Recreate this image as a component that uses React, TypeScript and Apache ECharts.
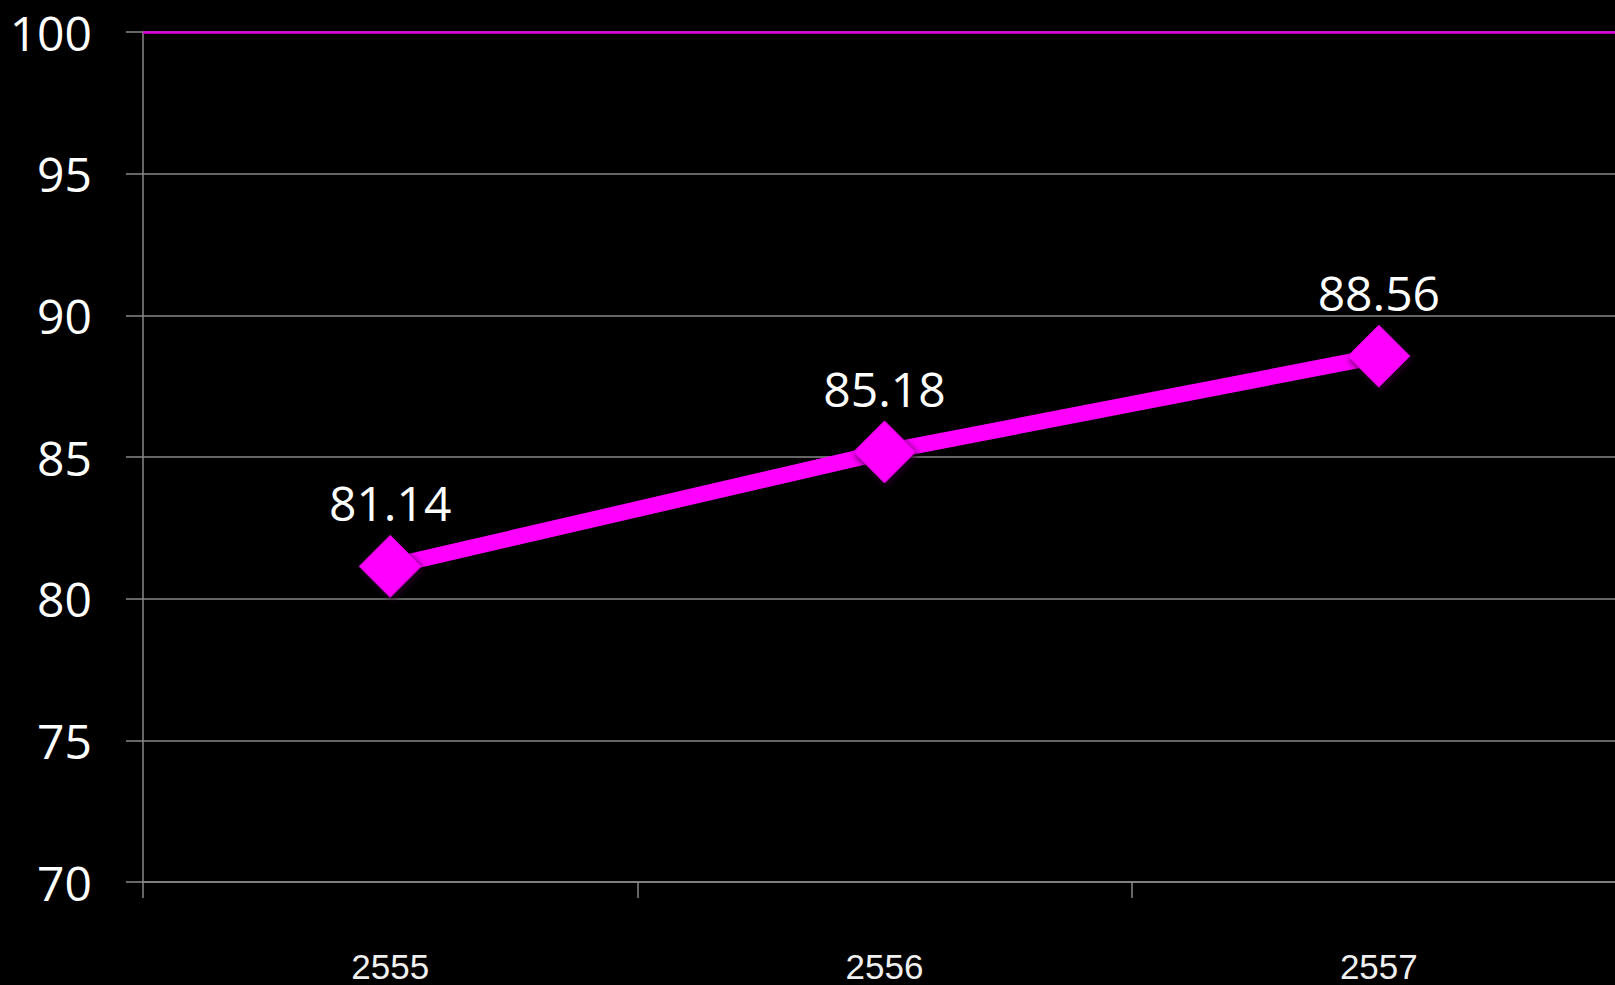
import React, { useEffect, useRef } from "react";
import * as echarts from "echarts";

const categories = ["2555", "2556", "2557"];
const values = [81.14, 85.18, 88.56];
const yTicks = { min: 70, max: 100, interval: 5 };

export default function App() {
  const ref = useRef<HTMLDivElement>(null);
  useEffect(() => {
    if (!ref.current) return;
    const chart = echarts.init(ref.current, null, { renderer: "svg" });
    chart.setOption({
      animation: false,
      backgroundColor: "#000000",
      grid: { left: 143, top: 32, bottom: 103, right: 14, containLabel: false },
      xAxis: {
        type: "category",
        data: categories,
        boundaryGap: true,
        axisLine: { show: true, lineStyle: { color: "#888888", width: 1.5 } },
        axisTick: { show: true, length: 16, lineStyle: { color: "#888888", width: 1.5 } },
        axisLabel: {
          color: "#f0f0f0",
          fontFamily: "Liberation Sans",
          fontSize: 35,
          margin: 67,
        },
        splitLine: { show: false },
      },
      yAxis: {
        type: "value",
        min: yTicks.min,
        max: yTicks.max,
        interval: yTicks.interval,
        axisLine: { show: true, lineStyle: { color: "#888888", width: 1.5 } },
        axisTick: { show: true, length: 17, lineStyle: { color: "#888888", width: 1.5 } },
        axisLabel: {
          color: "#ffffff",
          fontFamily: "Open Sans",
          fontSize: 48,
          margin: 51,
        },
        splitLine: { show: true, lineStyle: { color: "#888888", width: 1.5 } },
      },
      series: [
        {
          type: "line",
          data: values,
          symbol: "diamond",
          symbolSize: 62,
          lineStyle: { color: "#ff00ff", width: 16 },
          itemStyle: {
            color: "#ff00ff",
            borderColor: "#d400d4",
            borderWidth: 1,
            shadowColor: "rgba(40,0,40,0.9)",
            shadowBlur: 6,
            shadowOffsetX: 2,
            shadowOffsetY: 3,
          },
          label: {
            show: true,
            position: "top",
            distance: 8,
            color: "#ffffff",
            fontFamily: "Open Sans",
            fontSize: 48,
          },
          markLine: {
            silent: true,
            symbol: "none",
            label: { show: false },
            lineStyle: { color: "#e000e0", width: 2.5, type: "solid" },
            data: [{ yAxis: 100 }],
          },
        },
      ],
    });
    return () => chart.dispose();
  }, []);
  return (
    <div
      style={{
        position: "fixed",
        left: 0,
        top: 0,
        width: 1615,
        height: 985,
        overflow: "hidden",
        background: "#000",
      }}
    >
      <div ref={ref} style={{ width: 1640, height: 985 }} />
    </div>
  );
}
